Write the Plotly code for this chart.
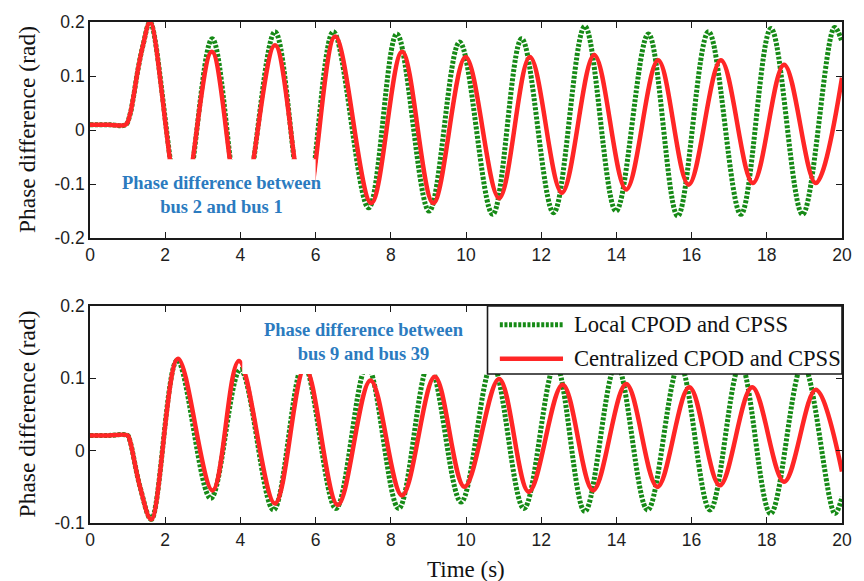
import plotly.graph_objects as go

# ---- Phase difference between bus 2 and bus 1 (upper panel) ----
t_21_local = [0.0, 0.5, 0.95, 1.06, 1.15, 1.28, 1.41, 1.6, 2.45, 3.25, 4.03, 4.92, 5.71, 6.47,
              7.41, 8.16, 9.02, 9.83, 10.71, 11.48, 12.33, 13.16, 13.99, 14.85, 15.63,
              16.45, 17.31, 18.11, 18.95, 19.8, 20.0]
p_21_local = [0.01, 0.01, 0.01, 0.028, 0.059, 0.114, 0.157, 0.2, -0.155, 0.169, -0.16, 0.182, -0.16, 0.182,
              -0.144, 0.178, -0.150, 0.163, -0.156, 0.169, -0.153, 0.192, -0.150, 0.178, -0.159,
              0.182, -0.156, 0.188, -0.156, 0.19, 0.163]

t_21_central = [0.0, 0.5, 0.95, 1.06, 1.15, 1.28, 1.41, 1.6, 2.43, 3.24, 4.02, 4.92, 5.73, 6.52,
                7.48, 8.30, 9.13, 9.99, 10.88, 11.70, 12.55, 13.41, 14.26, 15.11, 15.92,
                16.78, 17.63, 18.46, 19.30, 20.0]
p_21_central = [0.01, 0.01, 0.01, 0.028, 0.059, 0.114, 0.157, 0.2, -0.15, 0.145, -0.15, 0.157, -0.15, 0.173,
                -0.135, 0.145, -0.135, 0.135, -0.126, 0.135, -0.116, 0.139, -0.110, 0.129, -0.101,
                0.129, -0.098, 0.121, -0.098, 0.097]

# ---- Phase difference between bus 9 and bus 39 (lower panel) ----
t_939_local = [0.0, 0.5, 1.0, 1.06, 1.33, 1.63, 2.32, 3.21, 4.0, 4.88, 5.68, 6.54, 7.37, 8.21, 9.02,
               9.87, 10.70, 11.54, 12.38, 13.16, 14.0, 14.83, 15.68, 16.49, 17.30, 18.10,
               18.96, 19.81, 20.0]
p_939_local = [0.021, 0.021, 0.021, 0.014, -0.05, -0.095, 0.125, -0.066, 0.112, -0.082, 0.12, -0.080, 0.118,
               -0.080, 0.12, -0.071, 0.12, -0.080, 0.12, -0.084, 0.12, -0.082, 0.12, -0.082, 0.12,
               -0.087, 0.12, -0.087, -0.064]

t_939_central = [0.0, 0.5, 1.0, 1.06, 1.33, 1.63, 2.34, 3.26, 3.96, 4.92, 5.72, 6.59, 7.46, 8.30, 9.17,
                 9.96, 10.88, 11.67, 12.57, 13.38, 14.26, 15.09, 15.94, 16.75, 17.61, 18.46,
                 19.30, 20.0]
p_939_central = [0.021, 0.021, 0.021, 0.014, -0.05, -0.095, 0.127, -0.055, 0.124, -0.073, 0.115, -0.075, 0.097,
                 -0.062, 0.102, -0.050, 0.099, -0.057, 0.091, -0.055, 0.092, -0.050, 0.0875, -0.048,
                 0.0875, -0.043, 0.084, -0.029]

# ---- axis ticks ----
x_ticks = [0, 2, 4, 6, 8, 10, 12, 14, 16, 18, 20]
x_tick_text = ["0", "2", "4", "6", "8", "10", "12", "14", "16", "18", "20"]
y_ticks_top = [-0.2, -0.1, 0, 0.1, 0.2]
y_tick_text_top = ["-0.2", "-0.1", "0", "0.1", "0.2"]
y_ticks_bottom = [-0.1, 0, 0.1, 0.2]
y_tick_text_bottom = ["-0.1", "0", "0.1", "0.2"]

series_names = ["Local CPOD and CPSS", "Centralized CPOD and CPSS"]

GREEN = "#168a16"
RED = "#ff2626"
BLUE = "#2b7bbf"
SERIF = "Liberation Serif, Times New Roman, serif"
SANS = "Liberation Sans, Arial, sans-serif"

local_line = dict(color=GREEN, width=5, dash="3px,1.6px", shape="spline", smoothing=1)
central_line = dict(color=RED, width=4.5, shape="spline", smoothing=1)

fig = go.Figure()
fig.add_trace(go.Scatter(x=t_21_local, y=p_21_local, mode="lines", line=local_line,
                         name=series_names[0], xaxis="x", yaxis="y"))
fig.add_trace(go.Scatter(x=t_21_central, y=p_21_central, mode="lines", line=central_line,
                         name=series_names[1], xaxis="x", yaxis="y"))
fig.add_trace(go.Scatter(x=t_939_local, y=p_939_local, mode="lines", line=local_line,
                         name=series_names[0], xaxis="x2", yaxis="y2"))
fig.add_trace(go.Scatter(x=t_939_central, y=p_939_central, mode="lines", line=central_line,
                         name=series_names[1], xaxis="x2", yaxis="y2"))

axis_common = dict(showline=True, linecolor="#1a1a1a", linewidth=1.6, mirror="ticks",
                   ticks="inside", ticklen=6, tickwidth=1.3, tickcolor="#1a1a1a",
                   showgrid=False, zeroline=False,
                   tickfont=dict(family=SANS, size=17.5, color="#1e1e1e"))

fig.update_layout(
    width=864, height=581,
    margin=dict(l=90, r=14, t=20, b=58),
    paper_bgcolor="white", plot_bgcolor="white",
    showlegend=False,
    xaxis=dict(domain=[0, 1], anchor="y", range=[0, 20], tickvals=x_ticks,
               ticktext=x_tick_text, **axis_common),
    yaxis=dict(domain=[0.5686, 1], anchor="x", range=[-0.2, 0.2], tickvals=y_ticks_top,
               ticktext=y_tick_text_top, **axis_common),
    xaxis2=dict(domain=[0, 1], anchor="y2", range=[0, 20], tickvals=x_ticks,
                ticktext=x_tick_text, **axis_common),
    yaxis2=dict(domain=[0, 0.4334], anchor="x2", range=[-0.1, 0.2], tickvals=y_ticks_bottom,
                ticktext=y_tick_text_bottom, **axis_common),
)

# white label boxes that sit over the curves
fig.add_shape(type="rect", xref="x", yref="y", x0=0.8, x1=6.0, y0=-0.175, y1=-0.054,
              fillcolor="white", line=dict(width=0), layer="above")
fig.add_shape(type="rect", xref="x2", yref="y2", x0=4.05, x1=10.57, y0=0.106, y1=0.135,
              fillcolor="white", line=dict(width=0), layer="above")

# legend box in the lower panel
fig.add_shape(type="rect", xref="x2 domain", yref="y2 domain", x0=0.5286, x1=1.0, y0=0.686, y1=1.0,
              fillcolor="white", line=dict(color="#1a1a1a", width=1.6), layer="above")
fig.add_shape(type="line", xref="x2 domain", yref="y2 domain", x0=0.545, x1=0.629, y0=0.913, y1=0.913,
              line=dict(color=GREEN, width=5, dash="3px,1.6px"), layer="above")
fig.add_shape(type="line", xref="x2 domain", yref="y2 domain", x0=0.545, x1=0.629, y0=0.757, y1=0.757,
              line=dict(color=RED, width=4.5), layer="above")
for name, yy in zip(series_names, [0.913, 0.757]):
    fig.add_annotation(xref="x2 domain", yref="y2 domain", x=0.641, y=yy, text=name,
                       showarrow=False, xanchor="left", yanchor="middle",
                       font=dict(family=SERIF, size=22.6, color="#111111"))

# panel captions
fig.add_annotation(xref="x", yref="y", x=3.52, y=-0.12, text="<b>Phase difference between<br>bus 2 and bus 1</b>",
                   showarrow=False, xanchor="center", yanchor="middle",
                   font=dict(family=SERIF, size=18.5, color=BLUE))
fig.add_annotation(xref="x2", yref="y2", x=7.28, y=0.15, text="<b>Phase difference between<br>bus 9 and bus 39</b>",
                   showarrow=False, xanchor="center", yanchor="middle",
                   font=dict(family=SERIF, size=18.5, color=BLUE))

# axis titles
for yc in [0.7843, 0.2167]:
    fig.add_annotation(xref="paper", yref="paper", x=0, y=yc, xshift=-63, text="Phase difference (rad)",
                       textangle=-90, showarrow=False, xanchor="center", yanchor="middle",
                       font=dict(family=SERIF, size=23.5, color="#111111"))
fig.add_annotation(xref="paper", yref="paper", x=0.5, y=0, yshift=-46, text="Time (s)",
                   showarrow=False, xanchor="center", yanchor="middle",
                   font=dict(family=SERIF, size=23, color="#111111"))

fig.write_html("out.html")
